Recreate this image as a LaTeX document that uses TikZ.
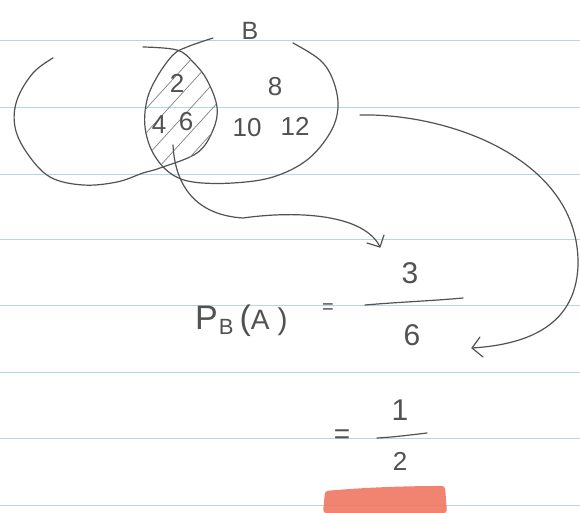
\documentclass[tikz,border=0pt]{standalone}
\usepackage{fontspec}
\setmainfont{Liberation Sans}
\usetikzlibrary{arrows.meta}
\definecolor{pencil}{RGB}{82,82,82}
\definecolor{hatchc}{RGB}{130,130,130}
\definecolor{ruled}{RGB}{182,214,232}
\definecolor{marker}{RGB}{240,118,98}
\tikzset{
  pen/.style={draw=pencil, line width=1.2pt, line cap=round, line join=round},
  hatchline/.style={draw=hatchc, line width=0.7pt},
  rule/.style={draw=ruled, line width=0.7pt},
  hand/.style={text=pencil, inner sep=0pt, font=\fontsize{26}{26}\selectfont},
  handbig/.style={hand, font=\fontsize{30}{30}\selectfont},
}
\begin{document}
\begin{tikzpicture}[x=1pt,y=-1pt]
\useasboundingbox (0,0) rectangle (580,513);
\fill[white] (0,0) rectangle (580,513);
% ruled paper
\foreach \yy in {40,107,174,239,305,372,438,505}
  \draw[rule] (0,\yy) -- (580,\yy);
% highlighter
\fill[marker, opacity=0.9, rounded corners=3pt] (325,491) .. controls (370,487) and (410,486) .. (445,486) -- (447,513) -- (323,513) -- cycle;

% set A (open at the top left)
\draw[pen] plot[smooth, tension=0.6] coordinates {(53,58) (33,73) (17,100) (15,127) (27,153) (50,177) (83,185) (117,182) (143,173) (160,168) (197,153) (213,130) (217,107) (207,80) (193,62) (177,50) (143,47)};
% set B (open at the top)
\draw[pen] plot[smooth, tension=0.6] coordinates {(213,38) (187,47) (173,55) (157,77) (147,100) (145,127) (153,153) (170,173) (193,182) (233,183) (273,177) (307,160) (330,133) (338,107) (333,80) (320,60) (293,43)};

% hatching of the intersection
\begin{scope}
  \clip plot[smooth, tension=0.6] coordinates {(53,58) (33,73) (17,100) (15,127) (27,153) (50,177) (83,185) (117,182) (143,173) (160,168) (197,153) (213,130) (217,107) (207,80) (193,62) (177,50) (143,47)} -- cycle;
  \clip plot[smooth, tension=0.6] coordinates {(213,38) (187,47) (173,55) (157,77) (147,100) (145,127) (153,153) (170,173) (193,182) (233,183) (273,177) (307,160) (330,133) (338,107) (333,80) (320,60) (293,43)} -- cycle;
  \foreach \c in {245,267,...,345}
    \draw[hatchline] (\c-182,200) -- (\c,0);
\end{scope}

% labels in the diagram
\node[hand, font=\fontsize{25}{25}\selectfont] (lblB) at (250,31) {B};
\node[hand] (n2) at (177,83) {2};
\node[hand] (n4) at (159,125) {4};
\node[hand] (n6) at (186,122) {6};
\node[hand] (n8) at (275,87) {8};
\node[hand] (n10) at (247,128) {10};
\node[hand] (n12) at (295,126) {12};

% formula
\node[hand, anchor=west] (pba) at (195,321) {\fontsize{34}{34}\selectfont P\hspace{1pt}\raisebox{-5pt}{\fontsize{22}{22}\selectfont B}\hspace{6pt}(\fontsize{28}{28}\selectfont A\hspace{8pt}\fontsize{30}{30}\selectfont)};
\node[hand, font=\fontsize{20}{20}\selectfont] (eq1) at (328,309) {=};
\node[handbig] (num3) at (410,273) {3};
\node[handbig] (den6) at (412,335) {6};
\coordinate (bar1l) at (365,305);
\coordinate (bar1r) at (463,298);
\draw[pen] (bar1l) .. controls (400,302) and (430,301) .. (bar1r);

\node[hand, font=\fontsize{28}{28}\selectfont] (eq2) at (342,437) {=};
\node[handbig] (num1) at (400,410) {1};
\node[hand] (den2) at (400,461) {2};
\coordinate (bar2l) at (377,438);
\coordinate (bar2r) at (427,433);
\draw[pen] (bar2l) .. controls (395,437) and (410,435) .. (bar2r);

% arrow from the hatched part to the numerator
\coordinate (a1s) at (173,145);
\coordinate (a1m) at (243,218);
\coordinate (a1t) at (380,247);
\coordinate (a1w1) at (367,243);
\coordinate (a1w2) at (384,235);
\draw[pen] (a1s) .. controls (175,185) and (195,215) .. (a1m) .. controls (300,210) and (365,215) .. (a1t);
\draw[pen] (a1w1) -- (a1t) -- (a1w2);

% arrow from B to the denominator
\coordinate (a2s) at (360,115);
\coordinate (a2m) at (578,265);
\coordinate (a2t) at (472,348);
\coordinate (a2w1) at (480,337);
\coordinate (a2w2) at (483,357);
\draw[pen] (a2s) .. controls (450,113) and (580,160) .. (a2m) .. controls (576,330) and (520,345) .. (a2t);
\draw[pen] (a2w1) -- (a2t) -- (a2w2);
\end{tikzpicture}
\end{document}
